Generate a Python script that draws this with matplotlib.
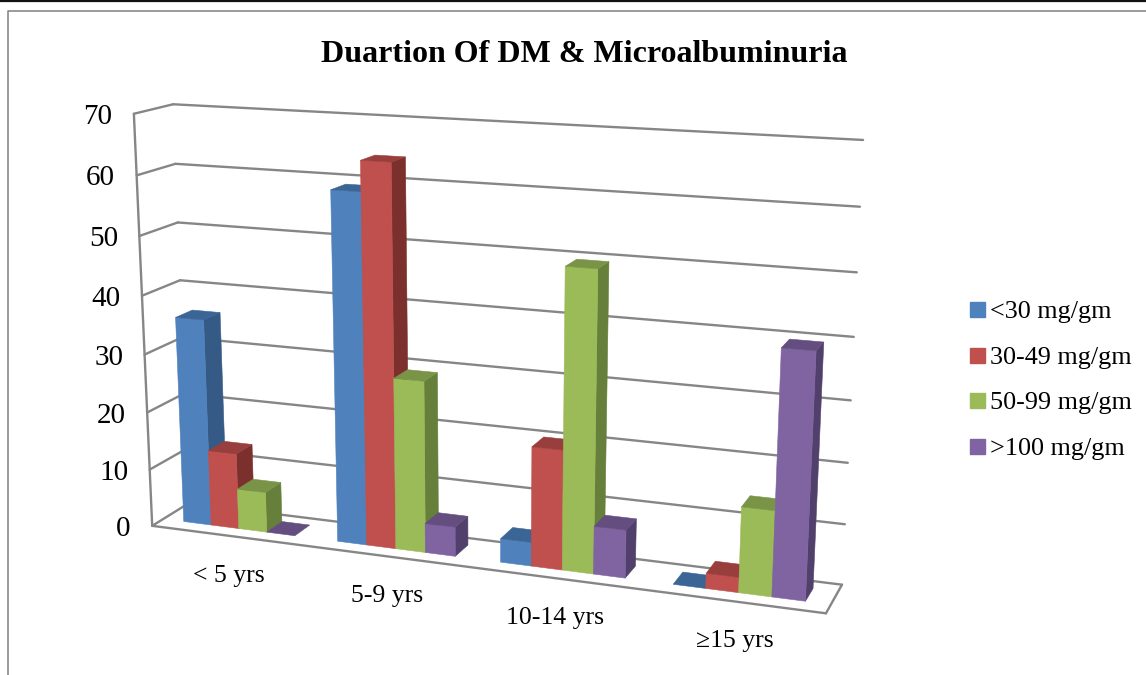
import numpy as np
import matplotlib
matplotlib.use("Agg")
import matplotlib.pyplot as plt
from matplotlib.lines import Line2D

plt.rcParams['font.family'] = ['Liberation Serif', 'DejaVu Serif']

categories = ['< 5 yrs', '5-9 yrs', '10-14 yrs', '\u226515 yrs']
series_names = ['<30 mg/gm', '30-49 mg/gm', '50-99 mg/gm', '>100 mg/gm']
under_30 = [35.8, 59, 4, 0]
from_30_49 = [13.2, 64, 20, 2.5]
from_50_99 = [7, 29, 49.5, 14]
over_100 = [0, 5, 8, 39.6]
ticks = [0, 10, 20, 30, 40, 50, 60, 70]

front_cols = ['#4F81BD', '#C0504D', '#9BBB59', '#8064A2']
top_cols = ['#3A6595', '#983F3D', '#7A9447', '#644E80']
side_cols = ['#355A86', '#7C302E', '#66803B', '#52406C']
grid_col = '#868686'

# box corners (x, depth, height) -> picture pixels, used to fit the camera
box_pts = [(0, 0, 0), (1, 0, 0), (1, 1, 0), (0, 1, 0), (0, 0, 1), (0, 1, 1), (1, 1, 1)]
pix_pts = [(153, 525), (826, 614), (842, 584), (188, 504), (133, 114), (174, 104), (863, 140)]

A = []
b = []
for (x, d, z), (u, v) in zip(box_pts, pix_pts):
    A.append([x, d, z, 1, 0, 0, 0, 0, -u * x, -u * d, -u * z])
    A.append([0, 0, 0, 0, x, d, z, 1, -v * x, -v * d, -v * z])
    b += [u, v]
P = np.linalg.lstsq(np.array(A, float), np.array(b, float), rcond=None)[0]
P = np.append(P, 1).reshape(3, 4)


def proj(x, d, z):
    h = P @ np.array([x, d, z, 1.0])
    return h[0] / h[2], h[1] / h[2]


fig = plt.figure(figsize=(11.46, 6.75), dpi=100)
ax = fig.add_axes([0, 0, 1, 1])
ax.set_xlim(0, 1146)
ax.set_ylim(675, 0)
ax.axis('off')


def seg(p, q):
    a = proj(*p)
    c = proj(*q)
    ax.plot([a[0], c[0]], [a[1], c[1]], color=grid_col, lw=1.7, solid_capstyle='round', zorder=1)


# walls and floor
for t in ticks:
    z = t / 70
    seg((0, 0, z), (0, 1, z))
    seg((0, 1, z), (1, 1, z))
    u, v = proj(0, 0, z)
    ax.text(u - 21.5, v + 3, str(t), ha='right', va='center', fontsize=21)
seg((0, 0, 0), (0, 0, 1))
seg((0, 0, 0), (1, 0, 0))
seg((1, 0, 0), (1, 1, 0))

# bars, left to right so later ones cover the sides of earlier ones
series = [under_30, from_30_49, from_50_99, over_100]
bar_w = 1 / 22
d0, d1 = 0.3, 0.75
zo = 2


def face(pts, col):
    xy = [proj(*p) for p in pts]
    ax.fill([q[0] for q in xy], [q[1] for q in xy], color=col, lw=0.4, zorder=zo)


for g in range(len(categories)):
    for s in range(4):
        val = series[s][g] / 70
        x0 = (g + 0.5) / 4 - 2 * bar_w + s * bar_w
        x1 = x0 + bar_w
        if val > 0:
            face([(x1, d0, 0), (x1, d1, 0), (x1, d1, val), (x1, d0, val)], side_cols[s])
            face([(x0, d0, 0), (x1, d0, 0), (x1, d0, val), (x0, d0, val)], front_cols[s])
        face([(x0, d0, val), (x1, d0, val), (x1, d1, val), (x0, d1, val)], top_cols[s])
        zo += 1

label_dx = [1, 0, 0, 2]
for g, name in enumerate(categories):
    u, v = proj((g + 0.5) / 4, 0, 0)
    ax.text(u + label_dx[g], v + 40, name, ha='center', va='center', fontsize=18.5)

ax.text(584, 54, 'Duartion Of DM & Microalbuminuria', ha='center', va='center',
        fontsize=23, fontweight='bold')

handles = [Line2D([], [], ls='none', marker='s', ms=10.8, color=c) for c in front_cols]
ax.legend(handles, series_names, loc='upper left', bbox_to_anchor=(969 / 1146, 1 - 300 / 675),
          bbox_transform=fig.transFigure, frameon=False, fontsize=18.8, labelspacing=0.85,
          handlelength=0.6, handletextpad=0.2, borderpad=0, borderaxespad=0)

# page rule and chart frame
ax.plot([0, 1146], [0.8, 0.8], color='#111111', lw=1.6, zorder=20)
ax.plot([7.5, 7.5, 1146], [675, 10.5, 10.5], color='#808080', lw=1.1, zorder=20)

fig.savefig('out.png', dpi=100)
